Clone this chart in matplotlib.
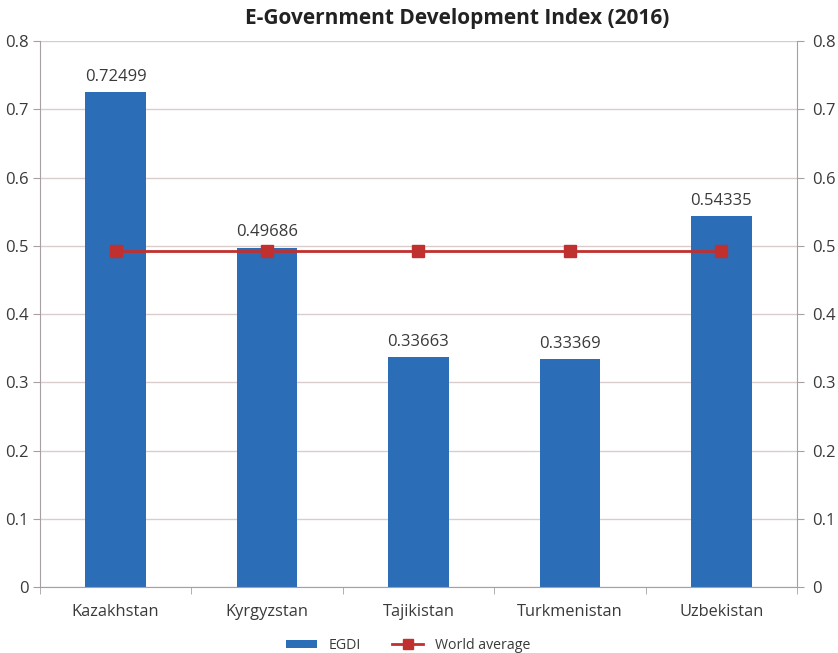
import numpy as np
import matplotlib.pyplot as plt
from matplotlib.lines import Line2D
from matplotlib.patches import Patch

# E-Government Development Index, Central Asia, 2016
countries = ["Kazakhstan", "Kyrgyzstan", "Tajikistan", "Turkmenistan", "Uzbekistan"]
egdi = [0.72499, 0.49686, 0.33663, 0.33369, 0.54335]
world_avg = [0.4922, 0.4922, 0.4922, 0.4922, 0.4922]
y_ticks = [0, 0.1, 0.2, 0.3, 0.4, 0.5, 0.6, 0.7, 0.8]

bar_color = "#2C6DB8"
line_color = "#C0302E"
grid_color = "#D8CCCC"
axis_color = "#A8A0A0"
text_color = "#3A3A3A"

plt.rcParams["font.family"] = ["Open Sans", "DejaVu Sans"]

fig = plt.figure(figsize=(8.38, 6.53), dpi=100)
ax = fig.add_axes([0.0477, 0.101, 0.9033, 0.836])
ax2 = ax.twinx()

x = np.arange(len(countries))
ax.bar(x, egdi, width=0.4, color=bar_color, zorder=2)
for xi, v in zip(x, egdi):
    ax.text(xi, v + 0.011, f"{v:.5f}", ha="center", va="bottom",
            fontsize=12, color=text_color)

ax2.plot(x, world_avg, color=line_color, lw=2, marker="s", ms=8,
         markerfacecolor=line_color, markeredgecolor=line_color, zorder=3)

tick_labels = ["0"] + [f"{t:.1f}" for t in y_ticks[1:]]
for a in (ax, ax2):
    a.set_ylim(0, 0.8)
    a.set_xlim(-0.5, len(countries) - 0.5)
    a.set_yticks(y_ticks)
    a.set_yticklabels(tick_labels)
    for s in a.spines.values():
        s.set_visible(False)

ax.tick_params(axis="y", length=5, color=axis_color, labelsize=12,
               labelcolor=text_color, pad=3)
ax2.tick_params(axis="y", length=5, color=axis_color, labelsize=12,
                labelcolor=text_color, pad=6)

ax.spines["left"].set_visible(True)
ax.spines["left"].set_color(axis_color)
ax.spines["bottom"].set_visible(True)
ax.spines["bottom"].set_color(axis_color)
ax2.spines["right"].set_visible(True)
ax2.spines["right"].set_color(axis_color)

ax.yaxis.grid(True, color=grid_color, lw=1)
ax.set_axisbelow(True)

# category labels centred, tick marks on the boundaries
ax.set_xticks(x)
ax.set_xticklabels(countries, fontsize=11.8, color=text_color)
ax.tick_params(axis="x", which="major", length=0, pad=12)
ax.set_xticks(np.arange(-0.5, len(countries)), minor=True)
ax.tick_params(axis="x", which="minor", length=5, color=axis_color)

fig.text(0.545, 0.972, "E-Government Development Index (2016)", ha="center",
         va="center", fontsize=15, fontweight="bold", color="#222222")

handles = [Patch(facecolor=bar_color, label="EGDI"),
           Line2D([], [], color=line_color, lw=2, marker="s", ms=7,
                  label="World average")]
fig.legend(handles=handles, loc="center", bbox_to_anchor=(0.487, 0.012),
           ncol=2, frameon=False, fontsize=10.2, handlelength=2.2,
           handleheight=0.5, columnspacing=2.2, labelcolor=text_color)

fig.savefig("out.png", dpi=100, facecolor="white")
